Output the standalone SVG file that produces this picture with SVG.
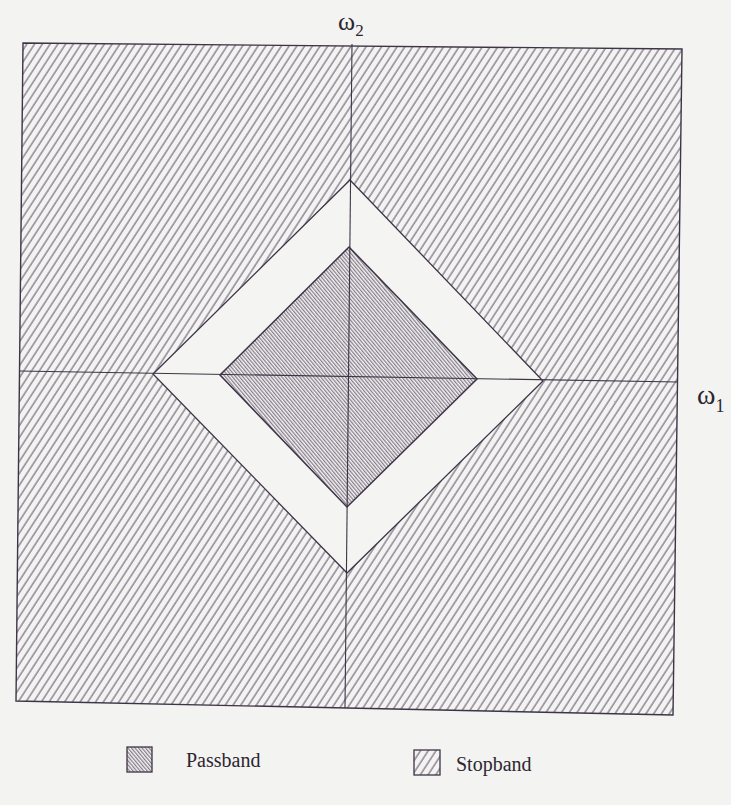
<svg xmlns="http://www.w3.org/2000/svg" width="731" height="805" viewBox="0 0 731 805">
<style>
.edge{fill:none;stroke:#3e3446;stroke-width:1.4;stroke-linejoin:miter}
.axis{stroke:#3e3446;stroke-width:1.1;fill:none}
.lbl{font-family:"Liberation Serif","Times New Roman",serif;fill:#2c2630}
</style>
<defs>
<pattern id="stop" patternUnits="userSpaceOnUse" width="6.5" height="10" patternTransform="rotate(33)"><line x1="1" y1="-1" x2="1" y2="11" stroke="#5e5068" stroke-width="1"/></pattern>
<pattern id="pass" patternUnits="userSpaceOnUse" width="2.7" height="10" patternTransform="rotate(-40)"><line x1="0.7" y1="-1" x2="0.7" y2="11" stroke="#54465e" stroke-width="0.9"/></pattern>
</defs>
<rect width="731" height="805" fill="#f3f3f1"/>
<g id="stopband">
<path d="M23,43 L682,49 L673,715 L16,701 Z M350,180 L543,381 L347,573 L153,374 Z" fill="url(#stop)" fill-rule="evenodd"/>
<path class="edge" d="M23,43 L682,49 L673,715 L16,701 Z"/>
</g>
<g id="transition">
<polygon points="350,180 543,381 347,573 153,374" fill="#f4f4f2" stroke="#3e3446" stroke-width="1.3"/>
</g>
<g id="passband">
<polygon points="349,247 477,379 347,507 220,375" fill="url(#pass)" stroke="#3e3446" stroke-width="1.5"/>
</g>
<g id="axes">
<line class="axis" x1="352" y1="44" x2="345" y2="708"/>
<line class="axis" x1="19" y1="371" x2="678" y2="382"/>
</g>
<g id="label-w2"><text class="lbl" x="338" y="30" font-size="26">ω<tspan font-size="17" dy="6">2</tspan></text></g>
<g id="label-w1"><text class="lbl" x="697" y="404" font-size="28">ω<tspan font-size="18" dy="8">1</tspan></text></g>
<g id="legend-passband">
<rect x="127" y="747" width="25" height="25" fill="url(#pass)" stroke="#3e3446" stroke-width="1.3"/>
<text class="lbl" x="186" y="767" font-size="20">Passband</text>
</g>
<g id="legend-stopband">
<rect x="414" y="750" width="26" height="25" fill="url(#stop)" stroke="#3e3446" stroke-width="1.3"/>
<text class="lbl" x="456" y="771" font-size="20">Stopband</text>
</g>
</svg>
